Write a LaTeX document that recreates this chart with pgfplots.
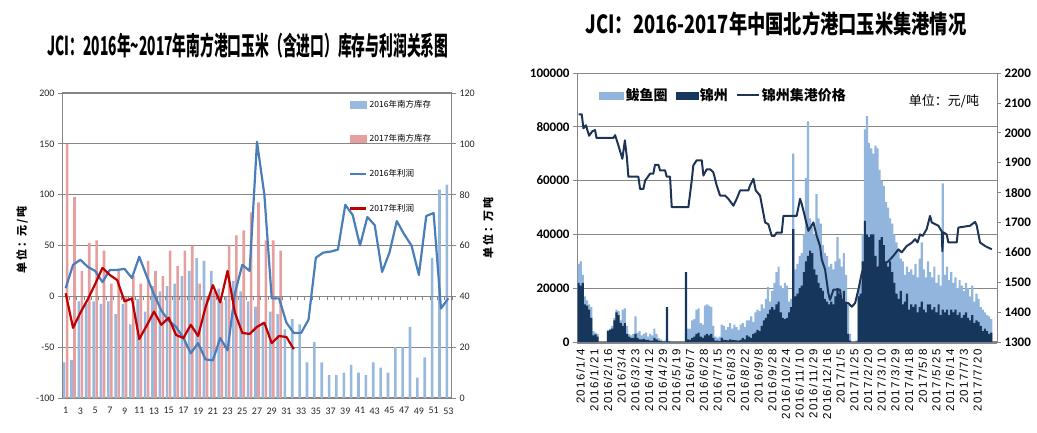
\documentclass[border=0pt]{standalone}
\usepackage{fontspec}
\usepackage{graphicx}
\usepackage{pgfplots}
\pgfplotsset{compat=1.18}
\usepackage{pgfplotstable}
\setmainfont{Carlito}
\newfontfamily\cjk{Noto Sans CJK SC}
\newfontfamily\dates[LetterSpace=12]{Liberation Sans}

\definecolor{bar16}{RGB}{152,185,222}
\definecolor{bar17}{RGB}{230,158,158}
\definecolor{line16}{RGB}{74,126,187}
\definecolor{line17}{RGB}{192,0,0}
\definecolor{gridc}{RGB}{134,134,134}
\definecolor{lightb}{RGB}{146,181,221}
\definecolor{navy}{RGB}{22,54,92}
\definecolor{pricec}{RGB}{30,52,86}

\pgfplotstableread{
cat inv16 inv17 p16 p17
1 14 100 8 3
2 15 79 31 -31
3 38 50 36 -16
4 37 61 29 -3
5 38 62 25 12
6 37 58 14 28
7 38 45 26 21
8 33 50 26 16
9 37 40 27 -5
10 29 48 18 -2
11 39 45 39 -42
12 34 54 20 -29
13 44 50 2 -15
14 42 48 -14 -28
15 44 58 -24 -21
16 45 52 -30 -38
17 48 58 -41 -41
18 50 60 -56 -28
19 55 45 -46 -39
20 54 40 -62 -11
21 50 42 -63 11
22 43 38 -41 -6
23 40 60 -53 25
24 46 64 3 -16
25 42 66 31 -36
26 38 73 25 -37
27 36 77 152 -30
28 30 62 100 -26
29 34 62 -2 -46
30 33 58 -2 -39
31 27 nan -26 -40
32 31 nan -36 -52
33 29 nan -36 nan
34 14 nan -23 nan
35 22 nan 38 nan
36 14 nan 43 nan
37 9 nan 44 nan
38 9 nan 46 nan
39 10 nan 90 nan
40 13 nan 80 nan
41 10 nan 50 nan
42 9 nan 78 nan
43 14 nan 70 nan
44 12 nan 24 nan
45 10 nan 43 nan
46 20 nan 74 nan
47 20 nan 61 nan
48 28 nan 50 nan
49 8 nan 21 nan
50 16 nan 79 nan
51 55 nan 82 nan
52 82 nan -12 nan
53 84 nan -2 nan
}\lefttab

\pgfplotstableread{
idx L N
0 29000 22000
2 30000 21000
4 25000 22000
6 17000 14000
8 15500 13500
10 14000 12000
12 13000 9000
14 4000 2500
16 3500 2800
18 3000 2000
20 0 0
22 0 0
24 0 0
26 0 0
28 4500 4000
30 5000 4500
32 6000 5000
34 9000 8000
36 12000 11000
38 11500 10000
40 8000 7000
42 12000 6000
44 12500 7000
46 6000 3000
48 3000 2000
50 2500 1500
52 3000 1500
54 9500 3000
56 3500 1500
58 4000 1000
60 2500 1000
62 3000 1200
64 3500 800
66 2000 800
68 3000 500
70 2500 500
72 5000 1500
74 3000 1000
76 1500 500
78 1000 300
80 500 200
82 500 200
84 1000 13000
86 300 200
88 200 100
90 0 0
92 0 0
94 0 0
96 200 100
98 0 0
100 0 0
102 3000 26000
104 5000 1000
106 5000 800
108 8000 1500
110 8500 2000
112 12000 3000
114 12500 3500
116 7000 2000
118 6500 1500
120 13500 2500
122 14000 3000
124 13500 2500
126 13000 3000
128 6000 1500
130 2000 500
132 1500 500
134 2000 300
136 6500 1500
138 6000 800
140 4500 700
142 5500 600
144 7000 1000
146 5000 800
148 6500 700
150 5500 600
152 4500 500
154 6500 800
156 7000 1500
158 5500 1000
160 8000 2500
162 8000 2000
164 9500 1500
166 7500 3000
168 11000 3500
170 12000 4500
172 11500 4000
174 14000 6000
176 12500 8000
178 16000 9000
180 20500 10500
182 15000 12000
184 19000 13000
186 22000 12000
188 26000 14000
190 28000 15000
192 21000 11000
194 20000 9000
196 22000 8500
198 21000 9000
200 15000 11000
202 16000 13000
204 70000 42000
206 27000 17000
208 29000 18000
210 32000 20000
212 33000 21000
214 40000 26000
216 61000 30000
218 82000 32000
220 46000 34000
222 43000 33000
224 40000 27000
226 55000 25000
228 46000 22000
230 44000 20000
232 36000 19000
234 33000 16000
236 32000 15000
238 28000 14000
240 29000 15000
242 27000 14000
244 30000 17000
246 39000 20000
248 31000 18000
250 28000 16000
252 33000 19000
254 25000 15000
256 14000 3000
258 3000 500
260 0 0
262 0 0
264 500 200
266 20000 17000
268 22000 18000
270 40000 30000
272 79000 45000
274 84000 40000
276 74000 39000
278 72000 40000
280 70000 40000
282 73000 32000
284 72000 28000
286 64000 38000
288 60000 39000
290 58000 36000
292 52000 30000
294 50000 28000
296 46000 30000
298 44000 26000
300 40000 22000
302 37000 18000
304 34000 16000
306 31000 19000
308 30000 14000
310 25000 15000
312 28000 18000
314 26000 12000
316 27000 14000
318 25000 13000
320 29000 14000
322 24000 11000
324 31000 13000
326 37000 15000
328 27000 12000
330 24000 11000
332 30000 14000
334 26000 14000
336 24000 12000
338 28000 13000
340 22000 11000
342 25000 14000
344 21000 10000
346 59000 12000
348 25000 11000
350 28000 12000
352 23000 10000
354 26000 12000
356 22000 11000
358 24000 12000
360 20000 10000
362 23000 11000
364 21000 9000
366 19000 10000
368 22000 11000
370 20000 9000
372 17000 8000
374 21000 10000
376 15000 7000
378 18000 8000
380 16000 7500
382 13000 6000
384 12000 4000
386 11000 5000
388 10000 4000
390 9500 3000
392 8500 3500
}\righttab

\pgfplotstableread{
idx p
0 2062
3 2062
4.6 2015
7 2025
10 1990
13 2005
15.7 2009
17 1983
33 1983
34.7 1992
37.8 1958
41.6 1913
44 1975
46 1913
47.3 1853
56.8 1853
58.4 1812
61.6 1812
63.2 1840
67.9 1863
71 1863
72.6 1893
75.8 1893
77.4 1874
82.2 1874
83.7 1853
86.9 1853
88.5 1751
104.3 1751
107.5 1840
109 1891
112.2 1908
117 1908
118.6 1857
121.7 1878
124.9 1878
128 1868
131.2 1824
134.4 1790
139.2 1790
142.3 1779
147.1 1756
150.2 1779
153.4 1807
161.3 1807
162.9 1824
166.1 1846
168.3 1807
172.4 1790
177.2 1700
180.3 1694
183.5 1655
186 1655
188.2 1666
193 1666
194.6 1722
207.2 1722
210.4 1779
212 1762
218.3 1672
223.1 1700
226.2 1655
229.4 1621
231 1576
234.2 1542
237.3 1463
238.9 1441
242.1 1475
248.4 1475
250 1430
256.3 1430
259.5 1418
262.7 1430
265.8 1475
269 1530
272.2 1560
276 1540
281 1520
286 1553
290 1560
294.3 1570
299 1588
303.8 1610
307 1600
311.7 1621
316.5 1632
319.7 1644
322 1633
324.4 1660
327 1655
330.7 1678
333.9 1722
335.5 1700
341.8 1689
345 1670
345.6 1604
346.5 1667
349.7 1660
351.3 1633
359.2 1633
360.8 1683
371.9 1689
376.7 1702
378.2 1690
381.4 1633
386.2 1621
392.5 1610
}\pricetab

\begin{document}
\begin{tikzpicture}[x=1pt,y=1pt]
\useasboundingbox (0,0) rectangle (1037,432);

% ---------------- Left chart: bars (right axis) ----------------
\begin{axis}[
  at={(62pt,34pt)}, anchor=south west, scale only axis,
  width=390pt, height=305pt,
  xmin=0.5, xmax=53.5, ymin=0, ymax=120,
  axis y line*=right, axis x line*=bottom,
  axis line style={gridc, line width=1pt},
  ytick={0,20,40,60,80,100,120},
  yticklabels={0,20,40,60,80,100,120},
  ymajorgrids, grid style={gridc, line width=1.2pt},
  xtick={1,3,...,53},
  xticklabels={1,3,5,7,9,11,13,15,17,19,21,23,25,27,29,31,33,35,37,39,41,43,45,47,49,51,53},
  x tick style={draw=none},
  y tick style={gridc, line width=0.8pt},
  tick align=outside, major tick length=4pt,
  ticklabel style={font=\fontsize{10}{10}\selectfont, text=black!85},
  xticklabel style={yshift=-2pt},
  ybar, bar width=2.6pt,
]
\addplot[fill=bar16, draw=none, bar shift=-1.5pt] table[x=cat,y=inv16]{\lefttab};
\addplot[fill=bar17, draw=none, bar shift=1.5pt] table[x=cat,y=inv17]{\lefttab};
\end{axis}

% ---------------- Left chart: lines (left axis) ----------------
\begin{axis}[
  at={(62pt,34pt)}, anchor=south west, scale only axis,
  width=390pt, height=305pt,
  xmin=0.5, xmax=53.5, ymin=-100, ymax=200,
  axis y line*=left, axis x line=middle,
  axis line style={-, gridc, line width=1pt},
  xtick={0.5,1.5,...,53.5}, xticklabels={},
  x tick style={gridc, line width=0.7pt},
  ytick={-100,-50,0,50,100,150,200},
  yticklabels={-100,-50,0,50,100,150,200},
  y tick style={gridc, line width=0.8pt},
  tick align=outside, major tick length=4pt,
  ticklabel style={font=\fontsize{10}{10}\selectfont, text=black!85},
  legend style={at={(0.736,0.984)}, anchor=north west, draw=none, fill=none,
    font=\cjk\fontsize{8.5}{9}\selectfont, row sep=22pt, inner sep=0pt},
  legend cell align=left,
]
\addlegendimage{legend image code/.code={\fill[bar16] (0pt,-3.5pt) rectangle (16pt,3.5pt);}}
\addlegendentry{2016年南方库存}
\addlegendimage{legend image code/.code={\fill[bar17] (0pt,-3.5pt) rectangle (16pt,3.5pt);}}
\addlegendentry{2017年南方库存}
\addplot[line16, line width=2.2pt, line join=round,
  legend image code/.code={\draw[line16,line width=2.4pt] (0pt,0pt)--(16pt,0pt);}]
  table[x=cat,y=p16]{\lefttab};
\addlegendentry{2016年利润}
\addplot[line17, line width=2.2pt, line join=round,
  legend image code/.code={\draw[line17,line width=2.4pt] (0pt,0pt)--(16pt,0pt);}]
  table[x=cat,y=p17]{\lefttab};
\addlegendentry{2017年利润}
\end{axis}

\node[font=\cjk\bfseries\fontsize{26}{26}\selectfont] at (248,386)
  {\scalebox{0.53}[1]{JCI：2016年\textasciitilde2017年南方港口玉米（含进口）库存与利润关系图}};
\node[rotate=90, font=\cjk\bfseries\fontsize{11}{11}\selectfont] at (22,192) {单\,位\,：元\,/\,吨};
\node[rotate=90, font=\cjk\bfseries\fontsize{11}{11}\selectfont] at (488,204) {单\,位\,：万\,吨};

% ---------------- Right chart: bars (left axis) ----------------
\begin{axis}[
  at={(577pt,90pt)}, anchor=south west, scale only axis,
  width=420pt, height=269pt,
  xmin=-1.5, xmax=397.5, ymin=0, ymax=100000,
  scaled y ticks=false,
  axis y line*=left, axis x line*=bottom,
  y axis line style={gridc, line width=1pt},
  x axis line style={gridc, line width=3pt},
  ytick={0,20000,40000,60000,80000,100000},
  yticklabels={0,20000,40000,60000,80000,100000},
  ymajorgrids, grid style={gridc, line width=1pt},
  xtick={0,13,...,377},
  xticklabels={2016/1/4,2016/1/21,2016/2/16,2016/3/4,2016/3/23,2016/4/12,2016/4/29,2016/5/19,2016/6/7,2016/6/28,2016/7/15,2016/8/3,2016/8/22,2016/9/8,2016/9/28,2016/10/24,2016/11/10,2016/11/29,2016/12/16,2017/1/5,2017/1/25,2017/2/20,2017/3/10,2017/3/29,2017/4/18,2017/5/8,2017/5/25,2017/6/14,2017/7/3,2017/7/20},
  xticklabel style={rotate=90, anchor=east, font=\dates\fontsize{11.5}{12}\selectfont, yshift=-2pt},
  x tick style={draw=none},
  y tick style={gridc, line width=0.8pt},
  tick align=outside, major tick length=4pt,
  yticklabel style={font=\bfseries\fontsize{13}{13}\selectfont},
  ybar, bar width=2.15pt,
]
\addplot[fill=lightb, draw=none, bar shift=0pt] table[x=idx,y=L]{\righttab};
\addplot[fill=navy, draw=none, bar shift=0pt] table[x=idx,y=N]{\righttab};
\end{axis}

% ---------------- Right chart: price (right axis) ----------------
\begin{axis}[
  at={(577pt,90pt)}, anchor=south west, scale only axis,
  width=420pt, height=269pt,
  xmin=-1.5, xmax=397.5, ymin=1300, ymax=2200,
  scaled y ticks=false,
  axis y line*=right, axis x line=none,
  axis line style={gridc, line width=1pt},
  ytick={1300,1400,...,2200},
  yticklabels={1300,1400,1500,1600,1700,1800,1900,2000,2100,2200},
  y tick style={gridc, line width=0.8pt},
  tick align=outside, major tick length=4pt,
  yticklabel style={font=\bfseries\fontsize{13}{13}\selectfont},
  legend columns=3,
  legend style={at={(0.045,0.958)}, anchor=north west, draw=none, fill=none,
    font=\cjk\bfseries\fontsize{14}{14}\selectfont,
    /tikz/every even column/.append style={column sep=6pt}},
]
\addlegendimage{legend image code/.code={\fill[lightb] (0pt,-3.5pt) rectangle (24pt,3.5pt);}}
\addlegendentry{鲅鱼圈}
\addlegendimage{legend image code/.code={\fill[navy] (0pt,-3.5pt) rectangle (22pt,3.5pt);}}
\addlegendentry{锦州}
\addplot[pricec, line width=2pt, line join=round,
  legend image code/.code={\draw[pricec,line width=2pt] (0pt,0pt)--(22pt,0pt);}]
  table[x=idx,y=p]{\pricetab};
\addlegendentry{锦州集港价格}
\end{axis}

\node[font=\cjk\bfseries\fontsize{25}{25}\selectfont] at (776,408)
  {\scalebox{0.73}[1]{JCI：2016-2017年中国北方港口玉米集港情况}};
\node[font=\cjk\fontsize{13}{13}\selectfont] at (944,331) {单位：元/吨};
\end{tikzpicture}
\end{document}
